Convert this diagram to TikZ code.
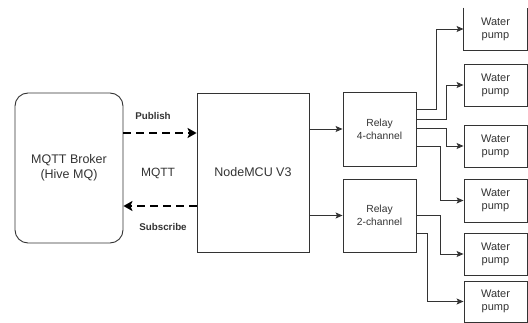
\documentclass[tikz,border=0pt]{standalone}
\usepackage{fontspec}
\setmainfont{Liberation Sans}
\usetikzlibrary{arrows.meta,calc}
\definecolor{ln}{HTML}{333333}
\begin{document}
\begin{tikzpicture}[x=1pt,y=-1pt,
  box/.style={draw=ln, line width=0.9pt, inner sep=0pt, align=center, text=ln},
  bigtxt/.style={font=\fontsize{12.5}{15}\selectfont},
  reltxt/.style={font=\fontsize{10.3}{13}\selectfont},
  pumptxt/.style={font=\fontsize{11}{13}\selectfont},
  lbl/.style={text=ln, inner sep=0pt},
  arr/.style={draw=ln, line width=0.9pt, -{Stealth[length=7pt,width=6pt,inset=1.5pt]}},
  dasharr/.style={draw=black, line width=2.6pt, dash pattern=on 8pt off 5pt, -{Stealth[length=9pt,width=10pt,inset=2pt]}}
]
\useasboundingbox (0,0) rectangle (528,323);

\node[box, bigtxt, rounded corners=13pt, minimum width=108pt, minimum height=150pt] (broker) at (69,168) {MQTT Broker\\(Hive MQ)};
\node[box, bigtxt, minimum width=112pt, minimum height=159pt] (mcu) at (253,172.5) {NodeMCU V3};
\node[box, reltxt, minimum width=73pt, minimum height=74pt] (r4) at (379.5,129) {Relay\\4-channel};
\node[box, reltxt, minimum width=73pt, minimum height=73pt] (r2) at (379.5,215.5) {Relay\\2-channel};

\node[box, draw=none, pumptxt, minimum width=63pt, minimum height=42pt] (p1) at (495.5,29) {Water\\pump};
\draw[ln, line width=0.9pt] (p1.north west) -- (p1.south west) -- (p1.south east) -- (p1.north east);
\node[box, pumptxt, minimum width=63pt, minimum height=42pt] (p2) at (495.5,85) {Water\\pump};
\node[box, pumptxt, minimum width=63pt, minimum height=42pt] (p3) at (495.5,146) {Water\\pump};
\node[box, pumptxt, minimum width=63pt, minimum height=43pt] (p4) at (495.5,200.5) {Water\\pump};
\node[box, pumptxt, minimum width=63pt, minimum height=42pt] (p5) at (495.5,254) {Water\\pump};
\node[box, pumptxt, minimum width=63pt, minimum height=41pt] (p6) at (495.5,301.5) {Water\\pump};

% MQTT links
\coordinate (pubA) at ($(broker.east)+(0,-35)$);
\coordinate (subA) at ($(broker.east)+(0,38)$);
\draw[dasharr] (pubA) -- (pubA -| mcu.west);
\draw[dasharr] (subA -| mcu.west) -- (subA);
\node[lbl, font=\bfseries\fontsize{9.8}{12}\selectfont] (pub) at (153,116) {Publish};
\node[lbl, font=\fontsize{12}{14}\selectfont] (mqtt) at (158,173) {MQTT};
\node[lbl, font=\bfseries\fontsize{9.8}{12}\selectfont] (sub) at (163,227) {Subscribe};

% NodeMCU to relays
\draw[arr] (mcu.east |- r4.west) -- (r4.west);
\draw[arr] (mcu.east |- r2.west) -- (r2.west);

% Relay 4 to pumps
\draw[arr] ($(r4.east)+(0,-20)$) -- ++(20,0) |- (p1.west);
\draw[arr] ($(r4.east)+(0,-10)$) -- ++(30,0) |- (p2.west);
\draw[arr] ($(r4.east)+(0,-1)$) -- ++(30,0) |- (p3.west);
\draw[arr] ($(r4.east)+(0,17)$) -- ++(24,0) |- (p4.west);
% Relay 2 to pumps
\draw[arr] (r2.east) -- ++(24,0) |- (p5.west);
\draw[arr] ($(r2.east)+(0,18)$) -- ++(11,0) |- (p6.west);
\end{tikzpicture}
\end{document}
